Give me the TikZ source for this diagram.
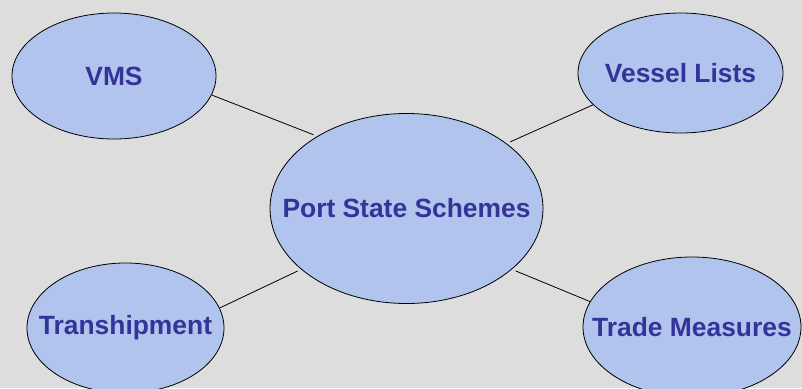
\documentclass[tikz,border=0pt]{standalone}
\usepackage{fontspec}
\setmainfont{Liberation Sans}
\usetikzlibrary{shapes.geometric}
\definecolor{bubblefill}{RGB}{176,196,237}
\definecolor{bubbletext}{RGB}{51,51,153}
\definecolor{backdrop}{RGB}{221,221,221}

\begin{document}
\begin{tikzpicture}[x=1pt,y=-1pt,line width=0.8pt,
  bubble/.style={ellipse,draw=black,fill=bubblefill,inner sep=0pt},
  caption/.style={text=bubbletext,inner sep=0pt,font=\fontsize{26.4}{30}\selectfont\bfseries},
  link/.style={shorten >=4pt}]
     		\fill[backdrop] (0,0) rectangle (802,388);
     		\useasboundingbox (0,0) rectangle (802,388);
     		% the bubbles
     		\node[bubble,minimum width=204pt,minimum height=126pt] (vms) at (114,76) {};
     		\node[caption] (vms-t) at (vms) {VMS};
     		\node[bubble,minimum width=205pt,minimum height=120pt] (vessel) at (680.5,73) {};
     		\node[caption] (vessel-t) at (vessel) {Vessel Lists};
     		\node[bubble,minimum width=273pt,minimum height=190pt] (pss) at (406.5,208.5) {};
     		\node[caption] (pss-t) at (pss) {Port State Schemes};
     		\node[bubble,minimum width=197pt,minimum height=130pt] (tranship) at (125.5,328) {};
     		\node[caption] (tranship-t) at (tranship) {Transhipment};
     		\node[bubble,minimum width=218pt,minimum height=140pt] (trade) at (692,327) {};
     		\node[caption] (trade-t) at (trade) {Trade Measures};
     		% links to the centre
     		\draw[link] (vms.-11) -- (pss.141);
     		\draw[link] (vessel.200) -- (pss.33);
     		\draw[link] (tranship.12) -- (pss.210);
     		\draw[link] (trade.166) -- (pss.-30);
\end{tikzpicture}
\end{document}
